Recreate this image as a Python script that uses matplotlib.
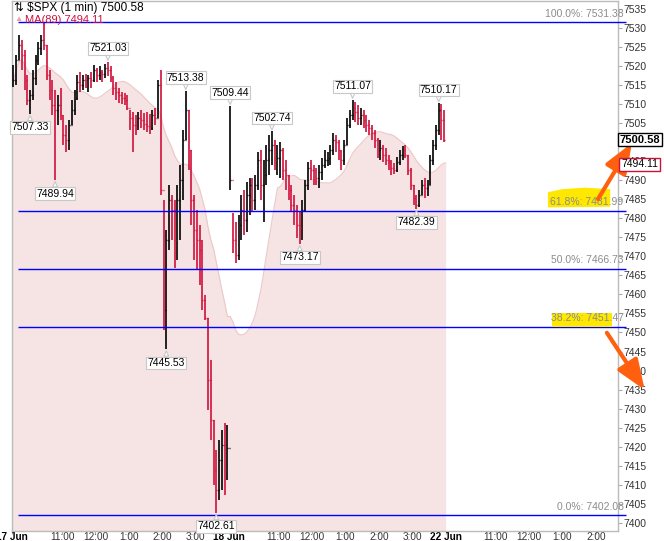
import matplotlib
matplotlib.use("Agg")
import matplotlib.pyplot as plt
import numpy as np
import pandas as pd
from matplotlib.patches import Polygon, Rectangle

plt.rcParams['font.family'] = ['Liberation Sans', 'DejaVu Sans']

titulo = "⇅ $SPX (1 min) 7500.58"
ma_texto = "MA(89) 7494.11"
ultimo = 7500.58
ma_ultimo = 7494.11
minutos_barra = 5
periodo_ma = 89

# 17 jun - barras de 5 minutos
altos_d1 = [7520.2, 7522.8, 7528.1, 7526.7, 7524.1, 7517.6, 7513.6, 7518.9, 7522.8, 7526.2,
            7528.1, 7531.38, 7525.4, 7518.9, 7516.2, 7513.6, 7512.3, 7514.2, 7507.1, 7504.5,
            7505.8, 7511.0, 7513.6, 7517.6, 7518.3, 7517.6, 7517.8, 7517.6, 7518.3, 7520.2,
            7519.4, 7519.9, 7518.9, 7520.4, 7521.03, 7519.9, 7517.3, 7515.7, 7514.2, 7513.1,
            7512.8, 7512.3, 7508.4, 7507.9, 7507.1, 7507.9, 7508.4, 7507.6, 7507.9, 7507.3,
            7508.4, 7508.9, 7516.2, 7518.9, 7484.8, 7476.9, 7488.7, 7486.1, 7484.8, 7488.7,
            7494.0, 7503.2, 7513.38, 7508.4, 7497.9, 7486.1, 7482.2, 7478.2, 7474.3, 7459.9,
            7453.8, 7442.8, 7427.1, 7419.2, 7421.8, 7424.5, 7426.3, 7425.8]
bajos_d1 = [7514.4, 7514.9, 7521.5, 7518.9, 7513.6, 7509.7, 7507.33, 7511.0, 7514.9, 7520.2,
            7522.8, 7524.1, 7516.2, 7511.0, 7507.1, 7489.94, 7504.5, 7505.8, 7499.2, 7497.4,
            7497.9, 7504.5, 7507.1, 7511.0, 7513.1, 7513.6, 7514.2, 7513.1, 7514.2, 7515.7,
            7515.7, 7516.2, 7515.7, 7516.8, 7517.3, 7515.7, 7512.3, 7511.0, 7510.2, 7509.9,
            7509.7, 7508.4, 7503.2, 7497.4, 7501.8, 7503.2, 7503.7, 7503.2, 7502.6, 7502.1,
            7503.2, 7504.5, 7506.3, 7486.1, 7450.7, 7445.53, 7471.7, 7474.3, 7467.0, 7469.0,
            7474.3, 7484.8, 7500.5, 7492.6, 7478.2, 7469.0, 7466.4, 7462.5, 7455.9, 7453.3,
            7429.7, 7421.8, 7410.0, 7402.61, 7406.1, 7408.7, 7407.4, 7411.4]
cierres_d1 = [7516.2, 7521.5, 7525.4, 7522.8, 7516.2, 7511.0, 7512.3, 7516.8, 7521.5, 7524.6,
              7526.7, 7525.4, 7517.6, 7513.6, 7509.7, 7508.4, 7509.7, 7507.1, 7501.8, 7500.5,
              7504.5, 7508.4, 7511.5, 7515.7, 7514.9, 7516.2, 7515.2, 7516.8, 7516.2, 7518.9,
              7517.6, 7518.3, 7517.8, 7519.4, 7518.9, 7516.8, 7514.2, 7513.1, 7512.3, 7511.5,
              7511.0, 7508.9, 7506.3, 7504.5, 7503.7, 7506.3, 7505.8, 7504.7, 7504.2, 7503.7,
              7507.1, 7506.3, 7514.9, 7487.4, 7455.9, 7474.3, 7484.8, 7482.2, 7474.3, 7484.8,
              7490.0, 7500.5, 7508.4, 7497.9, 7484.8, 7476.9, 7474.3, 7471.7, 7458.6, 7453.8,
              7437.6, 7427.1, 7414.0, 7408.7, 7416.6, 7420.5, 7414.0, 7419.7]

# 18 jun - barras de 5 minutos
altos_d2 = [7509.44, 7481.4, 7479.0, 7480.8, 7486.1, 7487.4, 7489.5, 7490.5, 7490.5, 7491.3,
            7497.4, 7497.9, 7495.3, 7499.2, 7501.8, 7502.74, 7500.5, 7499.2, 7500.0, 7498.4,
            7495.3, 7491.3, 7488.7, 7486.1, 7483.5, 7481.6, 7484.8, 7490.0, 7494.7, 7495.3,
            7494.0, 7493.2, 7494.0, 7495.8, 7497.9, 7497.4, 7499.2, 7502.4, 7501.8, 7500.5,
            7497.9, 7500.5, 7506.3, 7508.4, 7511.07, 7510.5, 7509.7, 7508.9, 7508.4, 7507.1,
            7505.8, 7504.5, 7503.2, 7501.0, 7500.5, 7499.2, 7498.4, 7496.6, 7495.3, 7494.5,
            7496.1, 7497.9, 7498.9, 7499.2, 7496.6, 7493.2, 7488.7, 7486.1, 7487.4, 7490.0,
            7490.5, 7490.0, 7496.6, 7500.5, 7504.5, 7510.17, 7509.9, 7508.4]
bajos_d2 = [7487.4, 7470.9, 7468.3, 7469.0, 7474.3, 7475.6, 7476.4, 7480.8, 7481.6, 7482.2,
            7487.4, 7484.8, 7479.0, 7488.7, 7491.3, 7494.0, 7492.6, 7491.3, 7490.5, 7490.0,
            7487.4, 7484.8, 7481.6, 7478.2, 7474.8, 7473.17, 7474.3, 7481.6, 7487.4, 7490.0,
            7488.7, 7488.7, 7488.0, 7490.0, 7493.2, 7493.7, 7494.0, 7496.6, 7497.4, 7495.3,
            7492.6, 7494.0, 7499.2, 7503.7, 7505.8, 7505.2, 7504.5, 7504.5, 7503.7, 7502.6,
            7501.8, 7500.5, 7498.4, 7495.8, 7495.3, 7494.7, 7494.0, 7492.6, 7491.3, 7491.6,
            7492.1, 7494.0, 7495.3, 7495.8, 7491.3, 7487.4, 7483.5, 7482.39, 7482.9, 7486.1,
            7485.3, 7485.8, 7488.7, 7494.0, 7497.9, 7501.8, 7500.5, 7500.0]
cierres_d2 = [7490.0, 7474.3, 7470.3, 7478.2, 7482.2, 7479.5, 7486.1, 7488.7, 7484.8, 7488.7,
              7495.3, 7488.7, 7491.3, 7495.3, 7497.9, 7499.2, 7495.3, 7495.8, 7497.9, 7492.6,
              7491.3, 7487.4, 7483.5, 7482.2, 7478.2, 7477.4, 7482.2, 7488.7, 7493.2, 7492.6,
              7491.3, 7490.5, 7492.1, 7494.0, 7495.3, 7495.8, 7497.9, 7500.5, 7500.0, 7497.9,
              7495.3, 7499.2, 7504.5, 7507.1, 7508.9, 7507.9, 7506.3, 7507.1, 7505.8, 7504.5,
              7503.7, 7502.4, 7500.5, 7497.9, 7498.4, 7496.6, 7495.3, 7494.7, 7493.2, 7492.6,
              7494.7, 7496.6, 7497.9, 7496.6, 7492.6, 7488.7, 7485.3, 7483.5, 7486.1, 7488.7,
              7488.0, 7488.7, 7495.3, 7499.2, 7503.2, 7508.4, 7505.8, 7500.58]

# etiquetas de maximos / minimos (indice de barra, tipo)
etiquetas_idx = [6, 15, 34, 55, 62, 73, 78 + 0, 78 + 15, 78 + 25, 78 + 44, 78 + 67, 78 + 75]
etiquetas_tipo = ["L", "L", "H", "L", "H", "L", "H", "H", "L", "H", "L", "H"]

# retroceso de fibonacci
fib_alto = 7531.38
fib_bajo = 7402.08
fib_niveles = [1.0, 0.618, 0.5, 0.382, 0.0]

# eje x
ticks_min = [0, 90, 150, 210, 270, 330, 390, 480, 540, 600, 660, 720, 780, 870, 930, 990, 1050]
ticks_txt = ["17 Jun", "11:00", "12:00", "1:00", "2:00", "3:00", "18 Jun", "11:00", "12:00",
             "1:00", "2:00", "3:00", "22 Jun", "11:00", "12:00", "1:00", "2:00"]
ticks_fecha = ["17 Jun", "18 Jun", "22 Jun"]

altos = np.array(altos_d1 + altos_d2)
bajos = np.array(bajos_d1 + bajos_d2)
cierres = np.array(cierres_d1 + cierres_d2)
aperturas = np.r_[cierres[0], cierres[:-1]]
n = len(cierres)
x = np.arange(n) * minutos_barra + minutos_barra / 2

rojo = "#D0103A"
colores = np.where(cierres >= aperturas, "black", rojo)

fig = plt.figure(figsize=(6.64, 5.41), dpi=100)
ax = fig.add_axes([12 / 664, 1 - 531 / 541, 606 / 664, 530 / 541])
ymin, ymax = 7397.9, 7536.97
ax.set_xlim(0, 1090)
ax.set_ylim(ymin, ymax)

# media movil (89 minutos)
ventana = round(periodo_ma / minutos_barra)
ma = pd.Series(cierres).rolling(ventana, min_periods=1).mean().values
xm = np.r_[0, x, n * minutos_barra]
mam = np.r_[ma[0], ma, ma[-1]]
ax.fill_between(xm, mam, ymin, color="#F6E4E4", lw=0, zorder=1)
ax.plot(xm, mam, color="#EDCACA", lw=0.9, zorder=1)

# barras OHLC
ax.vlines(x, bajos, altos, colors=colores, lw=1.2, zorder=3)
ax.hlines(aperturas, x - 1.6, x, colors=colores, lw=1.0, zorder=3)
ax.hlines(cierres, x, x + 1.6, colors=colores, lw=1.0, zorder=3)

# lineas de fibonacci
for r in fib_niveles:
    nivel = fib_bajo + r * (fib_alto - fib_bajo)
    ax.hlines(nivel, 11, 1104, colors="#0000FF", lw=1.0, zorder=4, clip_on=False)
    ax.text(1100, nivel + 0.9, "%.1f%%: %.2f" % (r * 100, nivel), ha="right", va="bottom",
            fontsize=7.5, color="#8C8C8C", zorder=5, clip_on=False)

# resaltados amarillos
ax.add_patch(Polygon([[964, 7486.8], [990, 7487.6], [1030, 7488.0], [1076, 7487.6],
                      [1076, 7483.0], [964, 7482.8]], closed=True, fc="#FFE800", ec="none",
                     zorder=4.5, clip_on=False))
ax.add_patch(Rectangle((971, 7451.5), 108, 3.7, fc="#FFE800", ec="none", zorder=4.5,
                       clip_on=False))

# etiquetas de precio
for i, t in zip(etiquetas_idx, etiquetas_tipo):
    if t == "H":
        v, dy, va = altos[i], 6, "bottom"
    else:
        v, dy, va = bajos[i], -6, "top"
    ax.annotate("%.2f" % v, xy=(x[i], v), xytext=(0, dy), textcoords="offset points",
                ha="center", va=va, fontsize=7.5, zorder=6,
                bbox=dict(boxstyle="square,pad=0.12", fc="white", ec="#C8C8C8", lw=0.8),
                arrowprops=dict(arrowstyle="wedge,tail_width=0.45,shrink_factor=0.5",
                                fc="white", ec="#C8C8C8", lw=0.8, shrinkA=0, shrinkB=1))

# flechas naranjas
estilo_flecha = dict(arrowstyle="-|>,head_length=1.4,head_width=0.55", lw=3,
                     color="#FF6010", mutation_scale=13, shrinkA=0, shrinkB=0)
ax.annotate("", xy=(1115, 7499.7), xytext=(1054, 7485.0), annotation_clip=False, zorder=7,
            arrowprops=estilo_flecha)
ax.annotate("", xy=(1138, 7434.9), xytext=(1070, 7449.9), annotation_clip=False, zorder=7,
            arrowprops=estilo_flecha)

# eje y a la derecha
ax.yaxis.tick_right()
ax.set_yticks(np.arange(7400, 7536, 5))
ax.tick_params(axis="y", labelsize=7.5, labelcolor="#333333", color="#AAAAAA", length=3, pad=1)
ax.set_xticks(ticks_min)
ax.set_xticklabels(ticks_txt)
ax.tick_params(axis="x", labelsize=7.2, labelcolor="#333333", color="#AAAAAA", length=2,
               pad=-1.5)
for lab in ax.get_xticklabels():
    if lab.get_text() in ticks_fecha:
        lab.set_fontweight("bold")
        lab.set_color("black")
for s in ax.spines.values():
    s.set_color("#BBBBBB")
    s.set_linewidth(1)

# etiquetas de ultimo precio y media
ax.text(1.002, ultimo, "%.2f" % ultimo, transform=ax.get_yaxis_transform(), ha="left",
        va="center", fontsize=8, fontweight="bold", zorder=8, clip_on=False,
        bbox=dict(boxstyle="square,pad=0.15", fc="white", ec="black", lw=1))
ax.text(1.005, ma_ultimo, "%.2f" % ma_ultimo, transform=ax.get_yaxis_transform(), ha="left",
        va="center", fontsize=7.5, zorder=8, clip_on=False,
        bbox=dict(boxstyle="square,pad=0.15", fc="white", ec=rojo, lw=1))

# titulo
ax.text(0.004, 0.987, titulo, transform=ax.transAxes, ha="left", va="center", fontsize=8.5,
        zorder=8)
ax.text(0.004, 0.965, "▲", transform=ax.transAxes, ha="left", va="center", fontsize=6,
        color="#F0A0A8", zorder=8)
ax.text(0.022, 0.965, ma_texto, transform=ax.transAxes, ha="left", va="center", fontsize=8,
        color=rojo, zorder=8)

fig.savefig("out.png", dpi=100)
